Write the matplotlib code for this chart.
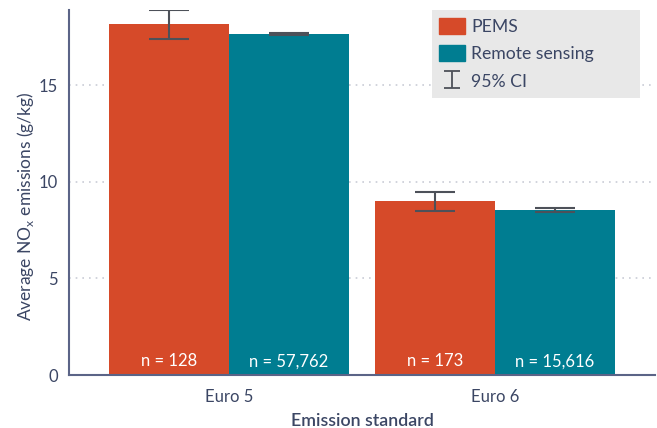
import matplotlib
matplotlib.use("Agg")
import matplotlib.pyplot as plt
import numpy as np
from matplotlib.patches import Patch, Rectangle

plt.rcParams['font.family'] = ['Lato', 'DejaVu Sans']

categories = ["Euro 5", "Euro 6"]
series = ["PEMS", "Remote sensing"]
pems_vals = [18.15, 9.0]
pems_lo = [17.38, 8.50]
pems_hi = [18.88, 9.47]
rs_vals = [17.65, 8.55]
rs_lo = [17.60, 8.45]
rs_hi = [17.70, 8.63]
n_labels = [["n = 128", "n = 173"], ["n = 57,762", "n = 15,616"]]
yticks = [0, 5, 10, 15]

c_pems = "#D64A29"
c_rs = "#007D91"
txt = "#3B4664"
spine_c = "#5B6487"
err_c = "#4D5159"

fig = plt.figure(figsize=(6.57, 4.28), dpi=100)
ax = fig.add_axes([69/657, 1-375/428, (655-69)/657, (375-10)/428])

x = np.arange(len(categories))
w = 0.45
vals = [pems_vals, rs_vals]
los = [pems_lo, rs_lo]
his = [pems_hi, rs_hi]
colors = [c_pems, c_rs]
for i in range(2):
    xs = x + (i - 0.5) * w
    v = np.array(vals[i]); lo = np.array(los[i]); hi = np.array(his[i])
    ax.bar(xs, v, width=w, color=colors[i], zorder=2)
    ax.errorbar(xs, v, yerr=[v - lo, hi - v], fmt='none', ecolor=err_c,
                elinewidth=1.5, capsize=14.5, capthick=1.5, zorder=3)
    for j, xx in enumerate(xs):
        ax.text(xx, 0.7, n_labels[i][j], ha='center', va='center',
                color='white', fontsize=12, zorder=4)

ax.set_xlim(-0.6, 1.6)
ax.set_ylim(0, 18.9)
ax.set_yticks(yticks)
ax.set_xticks(x)
ax.set_xticklabels(categories)
ax.yaxis.grid(True, linestyle=(0, (1, 3)), color="#C9CCD6", linewidth=1.2, zorder=0)
ax.set_axisbelow(True)
for s in ['top', 'right']:
    ax.spines[s].set_visible(False)
for s in ['left', 'bottom']:
    ax.spines[s].set_color(spine_c)
    ax.spines[s].set_linewidth(1.5)
ax.tick_params(axis='both', length=0, labelsize=12, colors=txt, pad=8)
ax.tick_params(axis='x', pad=10)
ax.set_xlabel("Emission standard", fontsize=12.8, color=txt, fontweight='semibold', labelpad=6)
fig.text(26/657, 1-206/428, "Average NO$_\\mathregular{x}$ emissions (g/kg)", fontsize=12.5,
         color=txt, rotation=90, ha='center', va='center')

# legend
bg = Rectangle((432/657, 1-98/428), 208/657, 88/428, transform=fig.transFigure,
               facecolor="#E8E8E8", edgecolor='none', zorder=5, clip_on=False)
ax.add_patch(bg)
eb = ax.errorbar([np.nan], [np.nan], yerr=[[1], [1]], fmt='none', ecolor=err_c,
                 elinewidth=1.3, capsize=5.8, capthick=1.3, label='95% CI')
handles = [Patch(color=c_pems, label=series[0]), Patch(color=c_rs, label=series[1]), eb]
leg = ax.legend(handles=handles, labels=[series[0], series[1], '95% CI'],
                loc='upper left', bbox_to_anchor=(439/657, 1-18/428),
                bbox_transform=fig.transFigure, borderaxespad=0,
                frameon=False, fontsize=12.7, labelcolor=txt,
                handlelength=1.48, handleheight=1.02, handletextpad=0.35,
                borderpad=0, labelspacing=0.58)
leg.set_zorder(6)

fig.savefig("out.png", dpi=100)
